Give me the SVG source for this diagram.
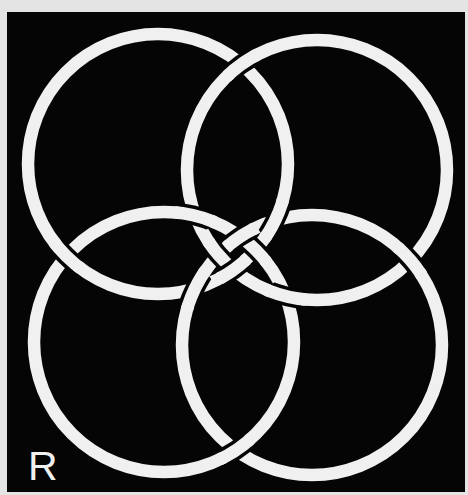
<svg xmlns="http://www.w3.org/2000/svg" width="468" height="495" viewBox="0 0 468 495">
<style>
.ring{fill:none;stroke:#f0f0f0;stroke-width:12.5}
.gap{fill:none;stroke:#050505;stroke-width:19.5}
.lbl{font-family:"Liberation Sans",Arial,sans-serif;font-size:41px;fill:#f0f0f0}
</style>
<defs>
<circle id="c-tl" cx="158" cy="164" r="130"/>
<circle id="c-tr" cx="317" cy="170" r="130"/>
<circle id="c-bl" cx="164" cy="342" r="130"/>
<circle id="c-br" cx="312" cy="345" r="130"/>
<clipPath id="k-top"><circle cx="241.4" cy="64.3" r="16"/></clipPath>
<clipPath id="w-top"><circle cx="241.4" cy="64.3" r="20"/></clipPath>
<clipPath id="k-left"><circle cx="66.3" cy="256.2" r="16"/></clipPath>
<clipPath id="w-left"><circle cx="66.3" cy="256.2" r="20"/></clipPath>
<clipPath id="k-right"><circle cx="410.6" cy="260.25" r="16"/></clipPath>
<clipPath id="w-right"><circle cx="410.6" cy="260.25" r="20"/></clipPath>
<clipPath id="k-bot"><circle cx="235.8" cy="450.35" r="16"/></clipPath>
<clipPath id="w-bot"><circle cx="235.8" cy="450.35" r="20"/></clipPath>
<clipPath id="k-p1"><circle cx="275.2" cy="220.3" r="19"/></clipPath>
<clipPath id="w-p1"><circle cx="275.2" cy="220.3" r="23"/></clipPath>
<clipPath id="k-p2"><circle cx="194.8" cy="288.7" r="19"/></clipPath>
<clipPath id="w-p2"><circle cx="194.8" cy="288.7" r="23"/></clipPath>
<clipPath id="k-p3"><circle cx="195.3" cy="215.8" r="18"/></clipPath>
<clipPath id="w-p3"><circle cx="195.3" cy="215.8" r="22"/></clipPath>
<clipPath id="k-p4"><circle cx="285.6" cy="296.2" r="18"/></clipPath>
<clipPath id="w-p4"><circle cx="285.6" cy="296.2" r="22"/></clipPath>
<clipPath id="k-p5"><circle cx="255.7" cy="249.8" r="15"/></clipPath>
<clipPath id="w-p5"><circle cx="255.7" cy="249.8" r="18"/></clipPath>
<clipPath id="k-p6"><circle cx="218.4" cy="254.75" r="15"/></clipPath>
<clipPath id="w-p6"><circle cx="218.4" cy="254.75" r="18"/></clipPath>
<clipPath id="k-p7"><circle cx="233.6" cy="269.7" r="15"/></clipPath>
<clipPath id="w-p7"><circle cx="233.6" cy="269.7" r="18"/></clipPath>
<clipPath id="k-p8"><circle cx="240.2" cy="236.65" r="15"/></clipPath>
<clipPath id="w-p8"><circle cx="240.2" cy="236.65" r="18"/></clipPath>
</defs>
<rect x="0" y="0" width="468" height="495" fill="#e4e4e4"/>
<rect x="7" y="12" width="458" height="480" fill="#050505"/>
<g id="ring-tl"><use href="#c-tl" class="ring"/></g>
<g id="ring-tr"><use href="#c-tr" class="ring"/></g>
<g id="ring-bl"><use href="#c-bl" class="ring"/></g>
<g id="ring-br"><use href="#c-br" class="ring"/></g>
<g id="crossings">
<use href="#c-tr" class="gap" clip-path="url(#k-top)"/><use href="#c-tr" class="ring" clip-path="url(#w-top)"/>
<use href="#c-tl" class="gap" clip-path="url(#k-left)"/><use href="#c-tl" class="ring" clip-path="url(#w-left)"/>
<use href="#c-br" class="gap" clip-path="url(#k-right)"/><use href="#c-br" class="ring" clip-path="url(#w-right)"/>
<use href="#c-bl" class="gap" clip-path="url(#k-bot)"/><use href="#c-bl" class="ring" clip-path="url(#w-bot)"/>
<use href="#c-tl" class="gap" clip-path="url(#k-p1)"/><use href="#c-tl" class="ring" clip-path="url(#w-p1)"/>
<use href="#c-br" class="gap" clip-path="url(#k-p2)"/><use href="#c-br" class="ring" clip-path="url(#w-p2)"/>
<use href="#c-bl" class="gap" clip-path="url(#k-p3)"/><use href="#c-bl" class="ring" clip-path="url(#w-p3)"/>
<use href="#c-tr" class="gap" clip-path="url(#k-p4)"/><use href="#c-tr" class="ring" clip-path="url(#w-p4)"/>
<use href="#c-bl" class="gap" clip-path="url(#k-p5)"/><use href="#c-bl" class="ring" clip-path="url(#w-p5)"/>
<use href="#c-br" class="gap" clip-path="url(#k-p8)"/><use href="#c-br" class="ring" clip-path="url(#w-p8)"/>
<use href="#c-tr" class="gap" clip-path="url(#k-p6)"/><use href="#c-tr" class="ring" clip-path="url(#w-p6)"/>
<use href="#c-tl" class="gap" clip-path="url(#k-p7)"/><use href="#c-tl" class="ring" clip-path="url(#w-p7)"/>
</g>
<text id="label-r" class="lbl" x="28" y="480">R</text>
</svg>
